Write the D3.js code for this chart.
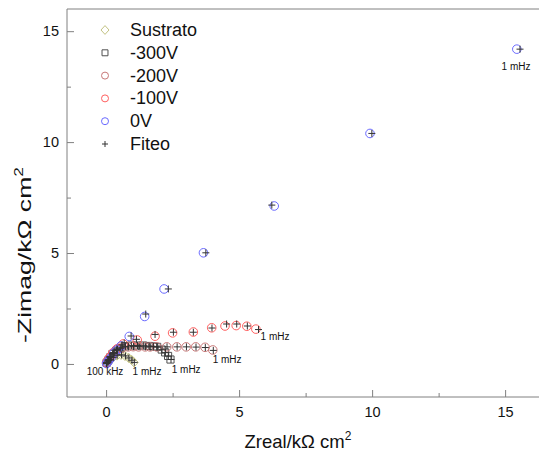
<!DOCTYPE html>
<html><head><meta charset="utf-8">
<script src="https://cdn.jsdelivr.net/npm/d3@7"></script>
<style>body{margin:0;background:#fff} text{font-family:"Liberation Sans",Arial,sans-serif}</style>
</head><body><svg id="c" width="539" height="452"></svg>
<script>
// ---- data ----
const seriesNames = ["Sustrato","-300V","-200V","-100V","0V"];
const sustratoX = [0.02,0.08,0.15,0.26,0.41,0.56,0.71,0.85,0.96,1.05];
const sustratoY = [0.02,0.09,0.18,0.29,0.38,0.41,0.36,0.27,0.18,0.07];
const fitSustratoX = [0.02,0.08,0.16,0.27,0.42,0.58,0.73,0.86,0.97,1.06];
const fitSustratoY = [0.02,0.09,0.19,0.30,0.39,0.41,0.36,0.27,0.17,0.07];

const m300X = [0.02,0.08,0.15,0.24,0.38,0.53,0.71,0.94,1.17,1.39,1.60,1.77,1.92,2.09,2.22,2.33,2.42];
const m300Y = [0.05,0.16,0.29,0.45,0.59,0.70,0.79,0.83,0.83,0.83,0.81,0.79,0.77,0.65,0.52,0.36,0.20];
const fit300X = [0.02,0.08,0.15,0.25,0.39,0.55,0.73,0.95,1.18,1.40,1.61,1.78,1.94,2.10,2.23,2.34,2.44];
const fit300Y = [0.05,0.16,0.30,0.46,0.60,0.71,0.79,0.83,0.83,0.82,0.81,0.79,0.76,0.64,0.51,0.35,0.20];

const m200X = [0.02,0.08,0.15,0.26,0.41,0.60,0.83,1.02,1.22,1.47,1.65,1.90,2.28,2.66,3.01,3.37,3.72,4.01];
const m200Y = [0.05,0.18,0.32,0.50,0.63,0.72,0.77,0.78,0.77,0.77,0.77,0.77,0.77,0.77,0.77,0.77,0.75,0.63];
const fit200X = [0.02,0.08,0.15,0.27,0.42,0.61,0.84,1.03,1.23,1.48,1.66,1.91,2.29,2.67,3.02,3.38,3.73,4.03];
const fit200Y = [0.05,0.18,0.33,0.50,0.64,0.73,0.77,0.78,0.78,0.77,0.77,0.77,0.77,0.77,0.77,0.76,0.74,0.61];

const m100X = [0.02,0.08,0.15,0.26,0.41,0.64,1.17,1.84,2.50,3.28,3.97,4.47,4.89,5.29,5.63];
const m100Y = [0.05,0.18,0.32,0.50,0.68,0.90,1.08,1.25,1.40,1.44,1.63,1.71,1.73,1.70,1.57];
const fit100X = [0.02,0.08,0.15,0.26,0.41,0.68,1.14,1.84,2.53,3.28,3.98,4.53,4.91,5.31,5.73];
const fit100Y = [0.05,0.18,0.32,0.50,0.68,0.95,1.11,1.33,1.43,1.43,1.62,1.80,1.80,1.71,1.55];

const v0X = [0.02,0.06,0.11,0.19,0.30,0.41,0.56,0.87,1.45,2.18,3.66,6.32,9.92,15.44];
const v0Y = [0.02,0.09,0.18,0.29,0.50,0.63,0.81,1.24,2.14,3.38,5.01,7.12,10.39,14.19];
const fit0X = [0.02,0.06,0.12,0.20,0.31,0.43,0.60,0.94,1.49,2.34,3.75,6.23,9.99,15.56];
const fit0Y = [0.02,0.09,0.18,0.30,0.50,0.65,0.86,1.26,2.25,3.38,5.01,7.16,10.39,14.19];

const xTicks = [0,5,10,15];
const yTicks = [0,5,10,15];
const xMinorTicks = [2.5,7.5,12.5];
const yMinorTicks = [2.5,7.5,12.5];
const legendLabels = ["Sustrato","-300V","-200V","-100V","0V","Fiteo"];
const annotationText = ["100 kHz","1 mHz","1 mHz","1 mHz","1 mHz","1 mHz"];
const annotationX = [-0.04,1.54,3.01,4.55,6.35,15.41];
const annotationY = [-0.36,-0.36,-0.25,0.20,1.24,13.42];

// ---- chart ----
const svg = d3.select("#c");
const x = d3.scaleLinear().domain([-1.47, 16.3]).range([67, 539.7]);
const y = d3.scaleLinear().domain([-1.49, 16]).range([397, 9]);
const frameColor = "#808080";

const colors = ["#c3c383","#505050","#c87878","#ff5f5f","#6a6aff"];
const shapes = ["diamond","square","circle","circle","circle"];
const dataX = [sustratoX,m300X,m200X,m100X,v0X];
const dataY = [sustratoY,m300Y,m200Y,m100Y,v0Y];
const fitX = [fitSustratoX,fit300X,fit200X,fit100X,fit0X];
const fitY = [fitSustratoY,fit300Y,fit200Y,fit100Y,fit0Y];

function shapePath(shape, s) {
  if (shape === "diamond") return `M0,${-s*1.1}L${s},0L0,${s*1.1}L${-s},0Z`;
  if (shape === "square") return `M${-s*0.85},${-s*0.85}h${s*1.7}v${s*1.7}h${-s*1.7}Z`;
  const p = d3.path(); p.arc(0,0,s,0,2*Math.PI); p.closePath(); return p.toString();
}

// axes
const gx = svg.append("g").attr("transform","translate(0,397)")
  .call(d3.axisBottom(x).tickValues(xTicks).tickSize(-7).tickPadding(10).tickFormat(d3.format("d")));
const gxm = svg.append("g").attr("transform","translate(0,397)")
  .call(d3.axisBottom(x).tickValues(xMinorTicks).tickSize(-4).tickFormat(""));
const gy = svg.append("g").attr("transform","translate(67,0)")
  .call(d3.axisLeft(y).tickValues(yTicks).tickSize(-7).tickPadding(8).tickFormat(d3.format("d")));
const gym = svg.append("g").attr("transform","translate(67,0)")
  .call(d3.axisLeft(y).tickValues(yMinorTicks).tickSize(-4).tickFormat(""));
[gx,gxm,gy,gym].forEach(g=>{
  g.select(".domain").remove();
  g.selectAll("line").attr("stroke",frameColor);
  g.selectAll("text").attr("font-size",14.5).attr("fill","#111").attr("font-family","Liberation Sans, Arial, sans-serif");
});

// frame (left, bottom, top)
svg.append("path")
  .attr("d",`M${x.range()[1]},${y.range()[1]}H${x.range()[0]}V${y.range()[0]}H${x.range()[1]}`)
  .attr("fill","none").attr("stroke",frameColor).attr("stroke-width",1);

// data markers
dataX.forEach((xs,i)=>{
  svg.append("g").selectAll("path").data(xs.map((v,j)=>[v,dataY[i][j]])).join("path")
    .attr("transform",d=>`translate(${x(d[0])},${y(d[1])})`)
    .attr("d",shapePath(shapes[i], shapes[i]==="circle"?4.3:4.2))
    .attr("fill","none").attr("stroke",colors[i]).attr("stroke-width",1);
});
// fit crosses
fitX.forEach((xs,i)=>{
  svg.append("g").selectAll("path").data(xs.map((v,j)=>[v,fitY[i][j]])).join("path")
    .attr("transform",d=>`translate(${x(d[0])},${y(d[1])})`)
    .attr("d","M-3.5,0H3.5M0,-3.5V3.5")
    .attr("fill","none").attr("stroke","#333").attr("stroke-width",1);
});

// annotations
svg.append("g").selectAll("text").data(annotationText).join("text")
  .attr("x",(d,i)=>x(annotationX[i])).attr("y",(d,i)=>y(annotationY[i]))
  .attr("text-anchor","middle").attr("dominant-baseline","central")
  .attr("font-size",10).attr("fill","#111").text(d=>d);

// legend
const lg = svg.append("g");
legendLabels.forEach((lab,i)=>{
  const cy = 30 + i*22.8;
  if (i < 5) {
    lg.append("path").attr("transform",`translate(105,${cy})`)
      .attr("d",shapePath(shapes[i], shapes[i]==="diamond"?4:3.5))
      .attr("fill","none").attr("stroke",colors[i]).attr("stroke-width",1);
  } else {
    lg.append("path").attr("transform",`translate(105,${cy})`)
      .attr("d","M-3,0H3M0,-3V3").attr("stroke","#333").attr("stroke-width",1);
  }
  lg.append("text").attr("x",130).attr("y",cy).attr("dominant-baseline","central")
    .attr("font-size",18).attr("fill","#111").text(lab);
});

// axis titles
const xt = svg.append("text").attr("x",298).attr("y",448).attr("text-anchor","middle")
  .attr("font-size",18.5).attr("fill","#111");
xt.append("tspan").text("Zreal/k\u03A9 cm");
xt.append("tspan").attr("font-size",12).attr("dy",-8).text("2");

const yt = svg.append("text").attr("transform","translate(31,255) rotate(-90)")
  .attr("text-anchor","middle").attr("font-size",18.5).attr("fill","#111")
  .attr("textLength",176).attr("lengthAdjust","spacingAndGlyphs");
yt.append("tspan").text("-Zimag/k\u03A9 cm");
yt.append("tspan").attr("font-size",12).attr("dy",-8).text("2");
</script></body></html>
